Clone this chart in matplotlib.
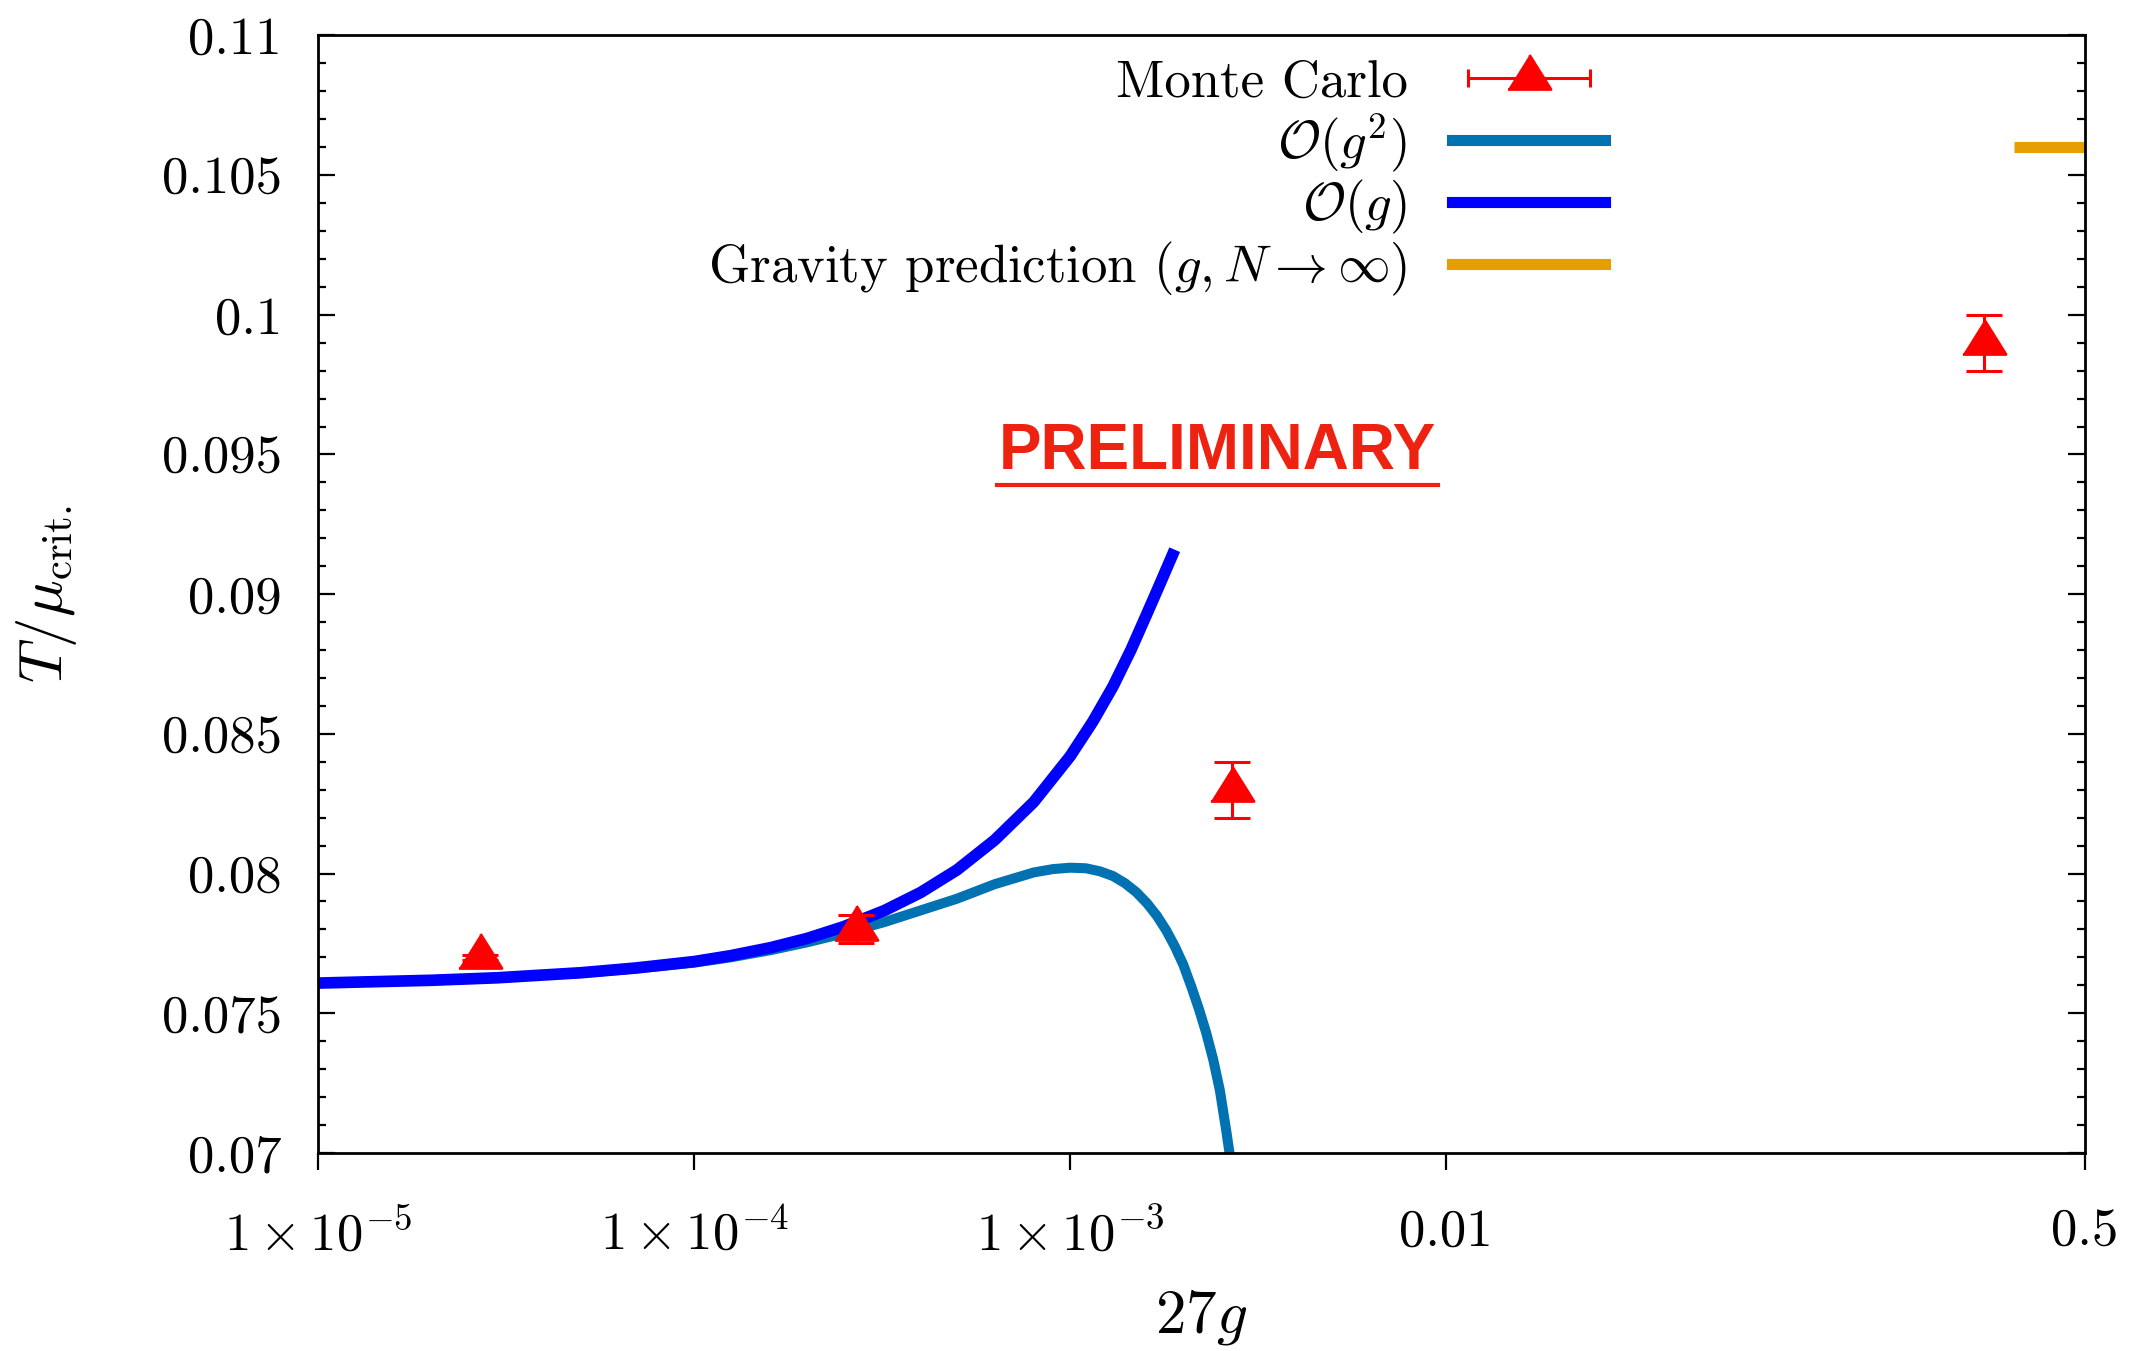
import numpy as np
import matplotlib
matplotlib.use('Agg')
import matplotlib.pyplot as plt
from matplotlib import rc
from matplotlib.lines import Line2D
from matplotlib.legend_handler import HandlerLine2D, HandlerTuple
from matplotlib.ticker import FixedLocator, MultipleLocator

rc('font', family='serif', serif=['cmr10'], size=19)
rc('mathtext', fontset='cm')
plt.rcParams['axes.formatter.use_mathtext'] = True

# Monte Carlo points (x = 27g)
mc_x = [2.7e-5, 2.7e-4, 2.7e-3, 0.27]
mc_y = [0.0770, 0.0780, 0.0830, 0.0990]
mc_err = [0.0001, 0.0005, 0.0010, 0.0010]

# O(g) curve
og_x = [1.0e-5, 2.0e-5, 3.0e-5, 5.0e-5, 7.0e-5, 1.0e-4, 1.25e-4, 1.6e-4, 2.0e-4,
        2.5e-4, 3.2e-4, 4.0e-4, 5.0e-4, 6.3e-4, 8.0e-4, 1.0e-3, 1.15e-3, 1.3e-3,
        1.45e-3, 1.6e-3, 1.75e-3, 1.87e-3]
og_y = [0.07608, 0.07618, 0.07627, 0.07645, 0.07662, 0.07685, 0.07706, 0.07735, 0.07768,
        0.07810, 0.07867, 0.07932, 0.08013, 0.08120, 0.08256, 0.08420, 0.08545, 0.08670,
        0.08800, 0.08930, 0.09050, 0.09140]

# O(g^2) curve
og2_x = [1.0e-5, 2.0e-5, 3.0e-5, 5.0e-5, 7.0e-5, 1.0e-4, 1.25e-4, 1.6e-4, 2.0e-4,
         2.5e-4, 3.2e-4, 4.0e-4, 5.0e-4, 6.3e-4, 8.0e-4, 9.0e-4, 1.0e-3, 1.1e-3,
         1.2e-3, 1.3e-3, 1.4e-3, 1.5e-3, 1.6e-3, 1.7e-3, 1.8e-3, 1.9e-3, 2.0e-3,
         2.1e-3, 2.2e-3, 2.3e-3, 2.4e-3, 2.5e-3, 2.6e-3, 2.7e-3]
og2_y = [0.07608, 0.07618, 0.07627, 0.07644, 0.07660, 0.07681, 0.07700, 0.07726, 0.07754,
         0.07786, 0.07826, 0.07868, 0.07910, 0.07962, 0.08004, 0.08016, 0.08021, 0.08019,
         0.08008, 0.07991, 0.07965, 0.07933, 0.07894, 0.07849, 0.07797, 0.07738, 0.07673,
         0.07595, 0.07515, 0.07430, 0.07335, 0.07225, 0.07080, 0.06930]

# gravity prediction
grav_x = [0.324, 0.5]
grav_y = [0.106, 0.106]

xticks = [1e-5, 1e-4, 1e-3, 0.01, 0.5]
xticklabels = [r'$1\times10^{-5}$', r'$1\times10^{-4}$', r'$1\times10^{-3}$', '0.01', '0.5']

c_mc = '#ff0000'
c_og2 = '#0072b2'
c_og = '#0000ff'
c_grav = '#e69f00'

fig = plt.figure(figsize=(10.66, 6.755), dpi=200)
ax = fig.add_axes([0.1492, 0.1466, 0.8288, 0.8272])

# gnuplot-like triangle, point sits a bit below the middle
tri = [(-1, -0.51), (1, -0.51), (0, 1.09)]

ax.plot(grav_x, grav_y, color=c_grav, lw=4.0, solid_capstyle='butt')
ax.plot(og2_x, og2_y, color=c_og2, lw=3.6)
ax.plot(og_x, og_y, color=c_og, lw=4.2)
ax.errorbar(mc_x, mc_y, yerr=mc_err, fmt='none', ecolor=c_mc, elinewidth=1.1,
            capsize=6.4, capthick=1.1)
ax.plot(mc_x, mc_y, ls='', marker=tri, ms=16.9, color=c_mc, mec=c_mc)

ax.set_xscale('log')
ax.set_xlim(1e-5, 0.5)
ax.set_ylim(0.07, 0.11)
ax.xaxis.set_major_locator(FixedLocator(xticks))
ax.set_xticklabels(xticklabels)
ax.xaxis.set_minor_locator(FixedLocator([]))
ax.tick_params(axis='x', which='major', direction='out', length=6, width=0.8, pad=14)
ax.yaxis.set_major_locator(MultipleLocator(0.005))
ax.yaxis.set_minor_locator(MultipleLocator(0.001))
ax.set_yticks(np.arange(0.07, 0.1101, 0.005))
ax.set_yticklabels(['0.07', '0.075', '0.08', '0.085', '0.09', '0.095', '0.1', '0.105', '0.11'])
ax.tick_params(axis='y', which='major', direction='in', length=6, width=0.8, pad=13,
               left=True, right=True)
ax.tick_params(axis='y', which='minor', direction='in', length=3, width=0.8,
               left=True, right=True)
for s in ax.spines.values():
    s.set_linewidth(1.0)

ax.set_xlabel(r'$27g$', labelpad=10, fontsize=22)
ax.set_ylabel(r'$T/\mu_{\mathrm{crit.}}$', labelpad=30, fontsize=22)

# legend, gnuplot style
h_bar = Line2D([], [], color=c_mc, lw=1.1, marker='|', ms=6.4, mew=1.1)
h_tri = Line2D([], [], ls='', marker=tri, ms=16.9, color=c_mc)
h_og2 = Line2D([], [], color=c_og2, lw=4.0)
h_og = Line2D([], [], color=c_og, lw=4.0)
h_grav = Line2D([], [], color=c_grav, lw=4.0)
leg = ax.legend([(h_bar, h_tri), h_og2, h_og, h_grav],
                ['Monte Carlo', r'$\mathcal{O}(g^2)$', r'$\mathcal{O}(g)$',
                 r'Gravity prediction $(g, N \to \infty)$'],
                handler_map={h_bar: HandlerLine2D(numpoints=2),
                             h_tri: HandlerLine2D(numpoints=1),
                             tuple: HandlerTuple(ndivide=1, pad=0)},
                loc='upper right', bbox_to_anchor=(0.7285, 0.978), frameon=False,
                markerfirst=False, handlelength=2.9, handletextpad=0.85,
                labelspacing=0.08, borderpad=0.0, borderaxespad=0.0)
for t in leg.get_texts():
    t.set_ha('right')

txt = ax.text(0.509, 0.627, 'PRELIMINARY', transform=ax.transAxes, ha='center',
              va='center', fontsize=23, fontweight='bold', color='#ee2211',
              family='Liberation Sans')
fig.canvas.draw()
bb = txt.get_window_extent()
uy = bb.y0 - 3
fig.add_artist(Line2D([bb.x0 - 2, bb.x1 + 2], [uy, uy], transform=None,
                      color='#ee2211', lw=1.5))

fig.savefig('out.png', dpi=200)
